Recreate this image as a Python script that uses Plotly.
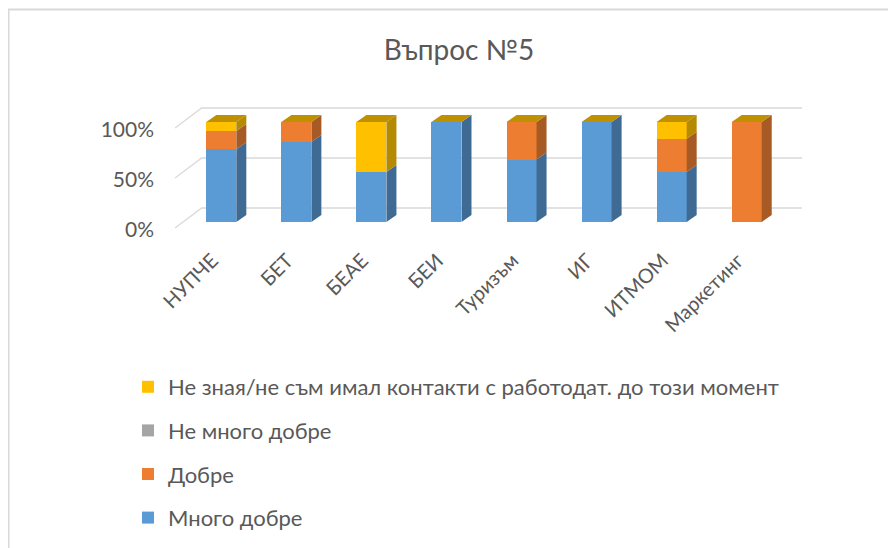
import plotly.graph_objects as go

# ---------------- data ----------------
categories = ["НУПЧЕ", "БЕТ", "БЕАЕ", "БЕИ", "Туризъм", "ИГ", "ИТМОМ", "Маркетинг"]
very_good = [72.7, 80.0, 50.0, 100.0, 62.5, 100.0, 50.0, 0.0]
good = [18.2, 20.0, 0.0, 0.0, 37.5, 0.0, 33.3, 100.0]
not_very_good = [0.0, 0.0, 0.0, 0.0, 0.0, 0.0, 0.0, 0.0]
dont_know = [9.1, 0.0, 50.0, 0.0, 0.0, 0.0, 16.7, 0.0]
series_names = ["Много добре", "Добре", "Не много добре",
                "Не зная/не съм имал контакти с работодат. до този момент"]
y_tick_values = [0, 50, 100]
y_tick_labels = ["0%", "50%", "100%"]
title_text = "Въпрос №5"

# ---------------- styling ----------------
series_values = [very_good, good, not_very_good, dont_know]
front_colors = ["#5B9BD5", "#ED7D31", "#A5A5A5", "#FFC000"]
side_colors = ["#3E6A93", "#A85A24", "#777777", "#B58A00"]
top_color = "#BF9000"
text_color = "#595959"
FONT = "Lato"

# all pixel constants below are in figure coordinates
W, H = 896, 548
L, R, T, B = 167, 794, 92, 227
plot_w, plot_h = R - L, B - T
px_per_cat = 75.06
first_center_px = 213.3
zero_px = 214
x_range = [(L - first_center_px) / px_per_cat, (R - first_center_px) / px_per_cat]
y_range = [-(B - zero_px), zero_px - T]
bar_w = 0.4
ddx = 10 / px_per_cat
ddy = 7

# label axis (labels sit slightly left of the bars, along the floor edge)
lab_first_px = first_center_px - 9
x2_range = [(L - lab_first_px) / px_per_cat, (R - lab_first_px) / px_per_cat]

idx = list(range(len(categories)))
n_series = len(series_names)

fig = go.Figure()
for k, (name, vals, col) in enumerate(zip(series_names, series_values, front_colors)):
    fig.add_trace(go.Bar(
        x=idx, y=vals, name=name, width=bar_w,
        marker=dict(color=col, line=dict(width=0)),
        legendgroup=name, legendrank=n_series - k,
    ))

# invisible trace for the label axis
fig.add_trace(go.Scatter(x=idx, y=very_good, xaxis="x2", mode="markers",
                         marker=dict(opacity=0), showlegend=False, hoverinfo="skip"))

shapes = []
# gridlines (3D walls)
front_off, back_off = -6, 14
back_dx = 26.7 / px_per_cat
for v in y_tick_values:
    path = "M {a},{b} L {c},{d} L {e},{d}".format(
        a=x_range[0], b=v + front_off, c=x_range[0] + back_dx, d=v + back_off,
        e=x_range[1])
    shapes.append(dict(type="path", path=path, xref="x", yref="y",
                       line=dict(color="#D9D9D9", width=1.3), layer="below"))

# 3D side and top faces
for i in idx:
    base = 0.0
    xr_ = i + bar_w / 2
    for vals, scol in zip(series_values, side_colors):
        h = vals[i]
        if h > 0:
            path = "M {x0},{y0} L {x1},{y1} L {x1},{y2} L {x0},{y3} Z".format(
                x0=xr_, y0=base, x1=xr_ + ddx, y1=base + ddy,
                y2=base + h + ddy, y3=base + h)
            shapes.append(dict(type="path", path=path, xref="x", yref="y",
                               fillcolor=scol, line=dict(width=0), layer="above"))
        base += h
    xl_ = i - bar_w / 2
    path = "M {a},{t} L {b},{t} L {c},{u} L {d},{u} Z".format(
        a=xl_, b=xr_, c=xr_ + ddx, d=xl_ + ddx, t=base, u=base + ddy)
    shapes.append(dict(type="path", path=path, xref="x", yref="y",
                       fillcolor=top_color, line=dict(width=0), layer="above"))

# chart border (top and left)
def px2x(p):
    return (p - L) / plot_w

def py2y(p):
    return (B - p) / plot_h

shapes.append(dict(type="line", xref="paper", yref="paper",
                   x0=px2x(0), x1=px2x(W + 5), y0=py2y(1.5), y1=py2y(1.5),
                   line=dict(color="#D9D9D9", width=2)))
shapes.append(dict(type="line", xref="paper", yref="paper",
                   x0=px2x(0.5), x1=px2x(0.5), y0=py2y(1.5), y1=py2y(H + 5),
                   line=dict(color="#D9D9D9", width=2)))

fig.update_layout(
    width=W, height=H,
    margin=dict(l=L, r=W - R, t=T, b=H - B, autoexpand=False),
    barmode="stack",
    paper_bgcolor="white", plot_bgcolor="rgba(0,0,0,0)",
    font=dict(family=FONT, color=text_color, size=20),
    title=dict(text=title_text, x=451 / W, y=1 - 42 / H, xref="container",
               yref="container", xanchor="center", yanchor="middle",
               font=dict(size=28, color=text_color, family=FONT)),
    xaxis=dict(range=x_range, showticklabels=False, showgrid=False,
               zeroline=False, showline=False, ticks=""),
    xaxis2=dict(range=x2_range, overlaying="x", anchor="y", side="bottom",
                tickvals=idx, ticktext=categories, tickangle=-45,
                showgrid=False, zeroline=False, showline=False, ticks="",
                tickfont=dict(size=20, color=text_color, family=FONT),
                ticklabelstandoff=9),
    yaxis=dict(range=y_range, tickvals=y_tick_values, ticktext=y_tick_labels,
               showgrid=False, zeroline=False, showline=False, ticks="",
               tickfont=dict(size=21, color=text_color, family=FONT),
               ticklabelshift=8, ticklabelstandoff=20),
    legend=dict(xref="container", yref="container", x=120 / W, y=1 - 358 / H,
                xanchor="left", yanchor="top", traceorder="grouped",
                tracegroupgap=12, font=dict(size=22, color=text_color, family=FONT),
                bgcolor="rgba(0,0,0,0)", itemwidth=30),
    shapes=shapes,
    showlegend=True,
)

fig.write_html("out.html")
